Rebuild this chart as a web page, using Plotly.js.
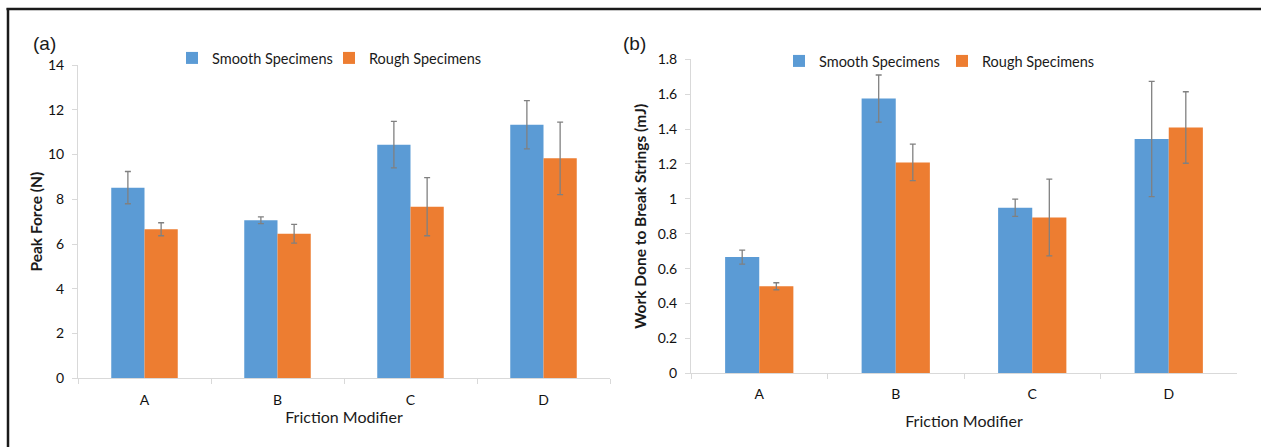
<!DOCTYPE html>
<html>
<head>
<meta charset="utf-8">
<script src="https://cdn.plot.ly/plotly-3.0.1.min.js"></script>
<style>html,body{margin:0;padding:0;background:#fff;}#chart{width:1261px;height:447px;}</style>
</head>
<body>
<div id="chart"></div>
<script>
// Categories
const categories = ["A", "B", "C", "D"];

// Panel (a): Peak Force (N)
const forceSmooth = [8.52, 7.06, 10.44, 11.33];
const forceSmoothErr = [0.72, 0.15, 1.04, 1.08];
const forceRough = [6.66, 6.46, 7.67, 9.83];
const forceRoughErr = [0.29, 0.42, 1.3, 1.62];

// Panel (b): Work Done to Break Strings (mJ)
const workSmooth = [0.666, 1.575, 0.949, 1.343];
const workSmoothErr = [0.04, 0.135, 0.05, 0.33];
const workRough = [0.499, 1.209, 0.893, 1.409];
const workRoughErr = [0.02, 0.105, 0.22, 0.205];

const seriesNames = ["Smooth Specimens", "Rough Specimens"];
const BLUE = "#5B9BD5", ORANGE = "#ED7D31", ERR = "#808080";
const FONT = "Lato, 'Open Sans', sans-serif";
const TXT = "#1a1a1a";

function barTrace(name, y, err, color, xa, ya, legend) {
  return {
    type: "bar", name: name, x: categories, y: y,
    xaxis: xa, yaxis: ya, legend: legend,
    marker: {color: color, line: {width: 0}},
    error_y: {type: "data", array: err, visible: true, color: ERR, thickness: 1.3, width: 3}
  };
}

const data = [
  barTrace(seriesNames[0], forceSmooth, forceSmoothErr, BLUE, "x", "y", "legend"),
  barTrace(seriesNames[1], forceRough, forceRoughErr, ORANGE, "x", "y", "legend"),
  barTrace(seriesNames[0], workSmooth, workSmoothErr, BLUE, "x2", "y2", "legend2"),
  barTrace(seriesNames[1], workRough, workRoughErr, ORANGE, "x2", "y2", "legend2")
];

const W = 1261, H = 447;
const px = v => v / W, py = v => 1 - v / H;
const tickFont = {family: FONT, size: 14, color: "#111"};

const xCommon = {
  type: "category", showgrid: false, zeroline: false,
  showline: true, linecolor: "#d9d9d9", linewidth: 1,
  ticks: "outside", tickson: "boundaries", ticklen: 5, tickcolor: "#d9d9d9",
  tickfont: tickFont,
  ticklabelstandoff: 9,
  fixedrange: true
};
const yCommon = {
  showgrid: false, zeroline: false,
  showline: true, linecolor: "#d9d9d9", linewidth: 1,
  ticks: "outside", ticklen: 5, tickcolor: "#d9d9d9",
  tickfont: tickFont,
  ticklabelstandoff: 5,
  fixedrange: true
};

const layout = {
  width: W, height: H,
  margin: {l: 0, r: 0, t: 0, b: 0},
  paper_bgcolor: "#fff", plot_bgcolor: "#fff",
  barmode: "group", bargap: 0.5, bargroupgap: 0,
  font: {family: FONT, color: TXT},
  xaxis: Object.assign({}, xCommon, {
    domain: [px(78), px(610)], anchor: "y",
    title: {text: "Friction Modifier", font: {family: FONT, size: 16, color: TXT}, standoff: 4}
  }),
  yaxis: Object.assign({}, yCommon, {
    domain: [py(378.3), py(65)], anchor: "x",
    range: [0, 14], dtick: 2,
    title: {text: "<b>Peak Force (N)</b>", font: {family: FONT, size: 15.5, color: TXT}, standoff: 1}
  }),
  xaxis2: Object.assign({}, xCommon, {
    domain: [px(691), px(1237)], anchor: "y2",
    ticklabelstandoff: 8,
    title: {text: "Friction Modifier", font: {family: FONT, size: 16, color: TXT}, standoff: 14}
  }),
  yaxis2: Object.assign({}, yCommon, {
    domain: [py(373.3), py(59.3)], anchor: "x2",
    range: [0, 1.8], dtick: 0.2,
    tickformat: "~g",
    title: {text: "<b>Work Done to Break Strings (mJ)</b>", font: {family: FONT, size: 15.5, color: TXT}, standoff: 7}
  }),
  legend: {
    orientation: "h", x: px(172), y: py(58), xanchor: "left", yanchor: "middle",
    font: {family: FONT, size: 14.5, color: TXT},
    bgcolor: "rgba(0,0,0,0)", entrywidth: 112, entrywidthmode: "pixels",
    itemclick: false, itemdoubleclick: false
  },
  legend2: {
    orientation: "h", x: px(779), y: py(61), xanchor: "left", yanchor: "middle",
    font: {family: FONT, size: 14.5, color: TXT},
    bgcolor: "rgba(0,0,0,0)", entrywidth: 118, entrywidthmode: "pixels",
    itemclick: false, itemdoubleclick: false
  },
  annotations: [
    {text: "(a)", xref: "paper", yref: "paper", x: px(31), y: py(43), xanchor: "left", yanchor: "middle",
     showarrow: false, font: {family: "Liberation Sans, Arial, sans-serif", size: 19, color: TXT}},
    {text: "(b)", xref: "paper", yref: "paper", x: px(621), y: py(43), xanchor: "left", yanchor: "middle",
     showarrow: false, font: {family: "Liberation Sans, Arial, sans-serif", size: 19, color: TXT}}
  ],
  shapes: [
    {type: "line", xref: "paper", yref: "paper", x0: px(6.5), x1: 1, y0: py(9), y1: py(9),
     line: {color: TXT, width: 2.5}},
    {type: "line", xref: "paper", yref: "paper", x0: px(8), x1: px(8), y0: py(8), y1: 0,
     line: {color: TXT, width: 2.5}}
  ],
  showlegend: true
};

Plotly.newPlot("chart", data, layout, {displayModeBar: false, staticPlot: true});
</script>
</body>
</html>
